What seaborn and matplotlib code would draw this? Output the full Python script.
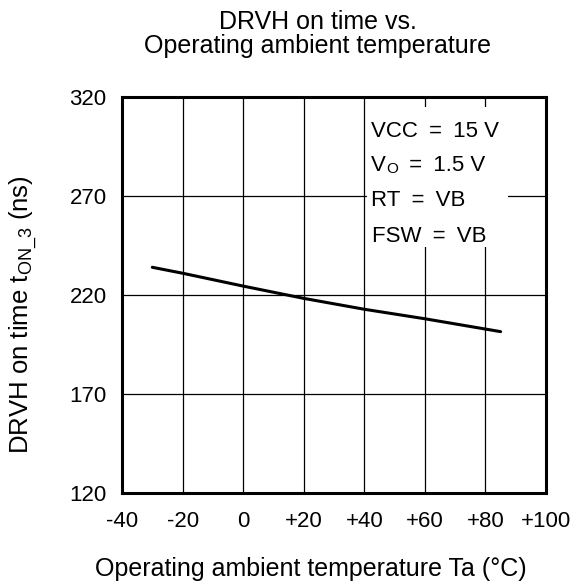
import matplotlib
matplotlib.use("Agg")
import matplotlib.pyplot as plt
import seaborn as sns
import pandas as pd
from matplotlib.patches import Rectangle

temps = [-30, -20, 0, 20, 40, 60, 80, 85]
ton3 = [234.0, 231.0, 224.5, 218.3, 212.8, 208.0, 202.8, 201.5]
x_ticks = [-40, -20, 0, 20, 40, 60, 80, 100]
x_labels = ["-40", "-20", "0", "+20", "+40", "+60", "+80", "+100"]
y_ticks = [120, 170, 220, 270, 320]

sns.set_theme(style="white")
plt.rcParams['font.family'] = ['Liberation Sans', 'DejaVu Sans']
plt.rcParams['mathtext.fontset'] = 'custom'
plt.rcParams['mathtext.rm'] = 'Liberation Sans'
plt.rcParams['mathtext.it'] = 'Liberation Sans'
plt.rcParams['text.color'] = 'black'

df = pd.DataFrame({"Ta": temps, "ton": ton3})

fig = plt.figure(figsize=(5.77, 5.85), dpi=100)
ax = fig.add_axes([122/577, 1-493/585, (546-122)/577, (493-97)/585])

sns.lineplot(data=df, x="Ta", y="ton", ax=ax, color="black", linewidth=2.2, zorder=3)

ax.set_xlim(-40, 100)
ax.set_ylim(120, 320)
ax.set_xticks(x_ticks)
ax.set_xticklabels(x_labels)
ax.set_yticks(y_ticks)
ax.grid(True, color="black", linewidth=0.9)
ax.tick_params(axis="x", length=0, labelsize=16, colors="black", pad=13)
ax.tick_params(axis="y", length=0, labelsize=16, colors="black", pad=11)
for s in ax.spines.values():
    s.set_visible(True)
    s.set_color("black")
    s.set_linewidth(2.2)
    s.set_zorder(5)

# white box behind conditions
ax.add_patch(Rectangle((40.9, 244.2), 46.5, 70.8, facecolor="white", edgecolor="none", zorder=2))
fs = 16
x0 = 42.3
sp = "\u2002"
ax.text(x0, 302.8, f"VCC{sp}={sp}15 V", fontsize=fs, va="center", ha="left", zorder=4)
tv = ax.text(x0, 285.6, "V", fontsize=fs, va="center", ha="left", zorder=4)
to = ax.annotate("O", xy=(1, 0), xycoords=tv, va="bottom", ha="left", fontsize=11, zorder=4)
ax.annotate(f"{sp}={sp}1.5 V", xy=(1, 0), xycoords=to, va="bottom", ha="left", fontsize=fs, zorder=4)
ax.text(x0, 267.5, f"RT{sp}={sp}VB", fontsize=fs, va="center", ha="left", zorder=4)
ax.text(x0 + 0.4, 249.3, f"FSW{sp}={sp}VB", fontsize=fs, va="center", ha="left", zorder=4)

ax.set_xlabel("")
ax.set_ylabel("")
fig.text(318/577, 1-34/585, "DRVH on time vs.\nOperating ambient temperature",
         ha="center", va="center", fontsize=18, linespacing=1.0)
fig.text(311/577, 1-569/585, "Operating ambient temperature Ta (°C)",
         ha="center", va="center", fontsize=18)
fig.text(24/577, 1-315/585, "DRVH on time t$_\\mathregular{ON\\_3}$ (ns)",
         ha="center", va="center", fontsize=18.5, rotation=90)

fig.savefig("out.png", dpi=100, facecolor="white")
